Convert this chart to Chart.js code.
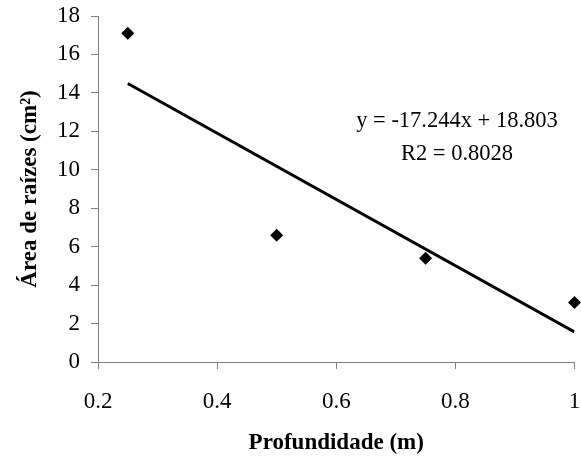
<!DOCTYPE html>
<html>
<head>
<meta charset="utf-8">
<script src="https://cdn.jsdelivr.net/npm/chart.js@4"></script>
<style>
  html, body { margin: 0; padding: 0; background: #fff; }
  #wrap { width: 581px; height: 458px; }
</style>
</head>
<body>
<div id="wrap"><canvas id="chart"></canvas></div>
<script>
// Dados
const profundidade = [0.25, 0.5, 0.75, 1];
const areaRaizes = [17.1, 6.6, 5.4, 3.1];
const trendX = [0.25, 1];
const trendY = [14.49, 1.56];
const xTicks = [0.2, 0.4, 0.6, 0.8, 1];
const yTicks = [0, 2, 4, 6, 8, 10, 12, 14, 16, 18];
const equationLines = ['y = -17.244x + 18.803', 'R2 = 0.8028'];

const serif = 'Liberation Serif, Times New Roman, serif';
const axisGray = '#808080';

// texto da equação da tendência
const equationPlugin = {
    id: 'equation',
    afterDatasetsDraw(chart) {
        const ctx = chart.ctx;
        ctx.save();
        ctx.fillStyle = '#000';
        ctx.font = '22.5px ' + serif;
        ctx.textAlign = 'center';
        ctx.textBaseline = 'middle';
        ctx.fillText(equationLines[0], 457, 121);
        ctx.fillText(equationLines[1], 457, 154);
        ctx.restore();
    }
};

new Chart(document.getElementById('chart'), {
    type: 'scatter',
    data: {
        datasets: [
            {
                label: 'Área',
                data: profundidade.map((x, i) => ({ x, y: areaRaizes[i] })),
                pointStyle: 'rectRot',
                pointRadius: 6.5,
                backgroundColor: '#000',
                borderColor: '#000',
                borderWidth: 0,
                clip: false
            },
            {
                label: 'Tendência',
                type: 'line',
                data: trendX.map((x, i) => ({ x, y: trendY[i] })),
                borderColor: '#000',
                borderWidth: 3,
                pointRadius: 0,
                fill: false
            }
        ]
    },
    options: {
        responsive: true,
        maintainAspectRatio: false,
        animation: false,
        layout: { padding: { top: 16, right: 5, left: 0, bottom: 0 } },
        plugins: { legend: { display: false }, tooltip: { enabled: false } },
        scales: {
            x: {
                type: 'linear',
                min: 0.2,
                max: 1,
                afterBuildTicks: s => { s.ticks = xTicks.map(v => ({ value: v })); },
                afterFit: s => { s.height = 96; s.paddingLeft = 0; s.paddingRight = 0; },
                grid: { drawOnChartArea: false, color: axisGray, tickLength: 7 },
                border: { color: axisGray, width: 1 },
                ticks: {
                    color: '#000',
                    padding: 19,
                    maxRotation: 0,
                    font: { family: serif, size: 23 },
                    callback: v => String(v)
                },
                title: {
                    display: true,
                    text: 'Profundidade (m)',
                    color: '#000',
                    font: { family: serif, size: 23, weight: 'bold' },
                    padding: { top: 2, bottom: 1 }
                }
            },
            y: {
                min: 0,
                max: 18,
                afterBuildTicks: s => { s.ticks = yTicks.map(v => ({ value: v })); },
                afterFit: s => { s.width = 98; s.paddingTop = 0; s.paddingBottom = 0; },
                grid: { drawOnChartArea: false, color: axisGray, tickLength: 7 },
                border: { color: axisGray, width: 1 },
                ticks: {
                    color: '#000',
                    padding: 11,
                    font: { family: serif, size: 23 }
                },
                title: {
                    display: true,
                    text: 'Área de raízes (cm²)',
                    color: '#000',
                    font: { family: serif, size: 23, weight: 'bold' },
                    padding: { top: 16, bottom: 4 }
                }
            }
        }
    },
    plugins: [equationPlugin]
});
</script>
</body>
</html>
